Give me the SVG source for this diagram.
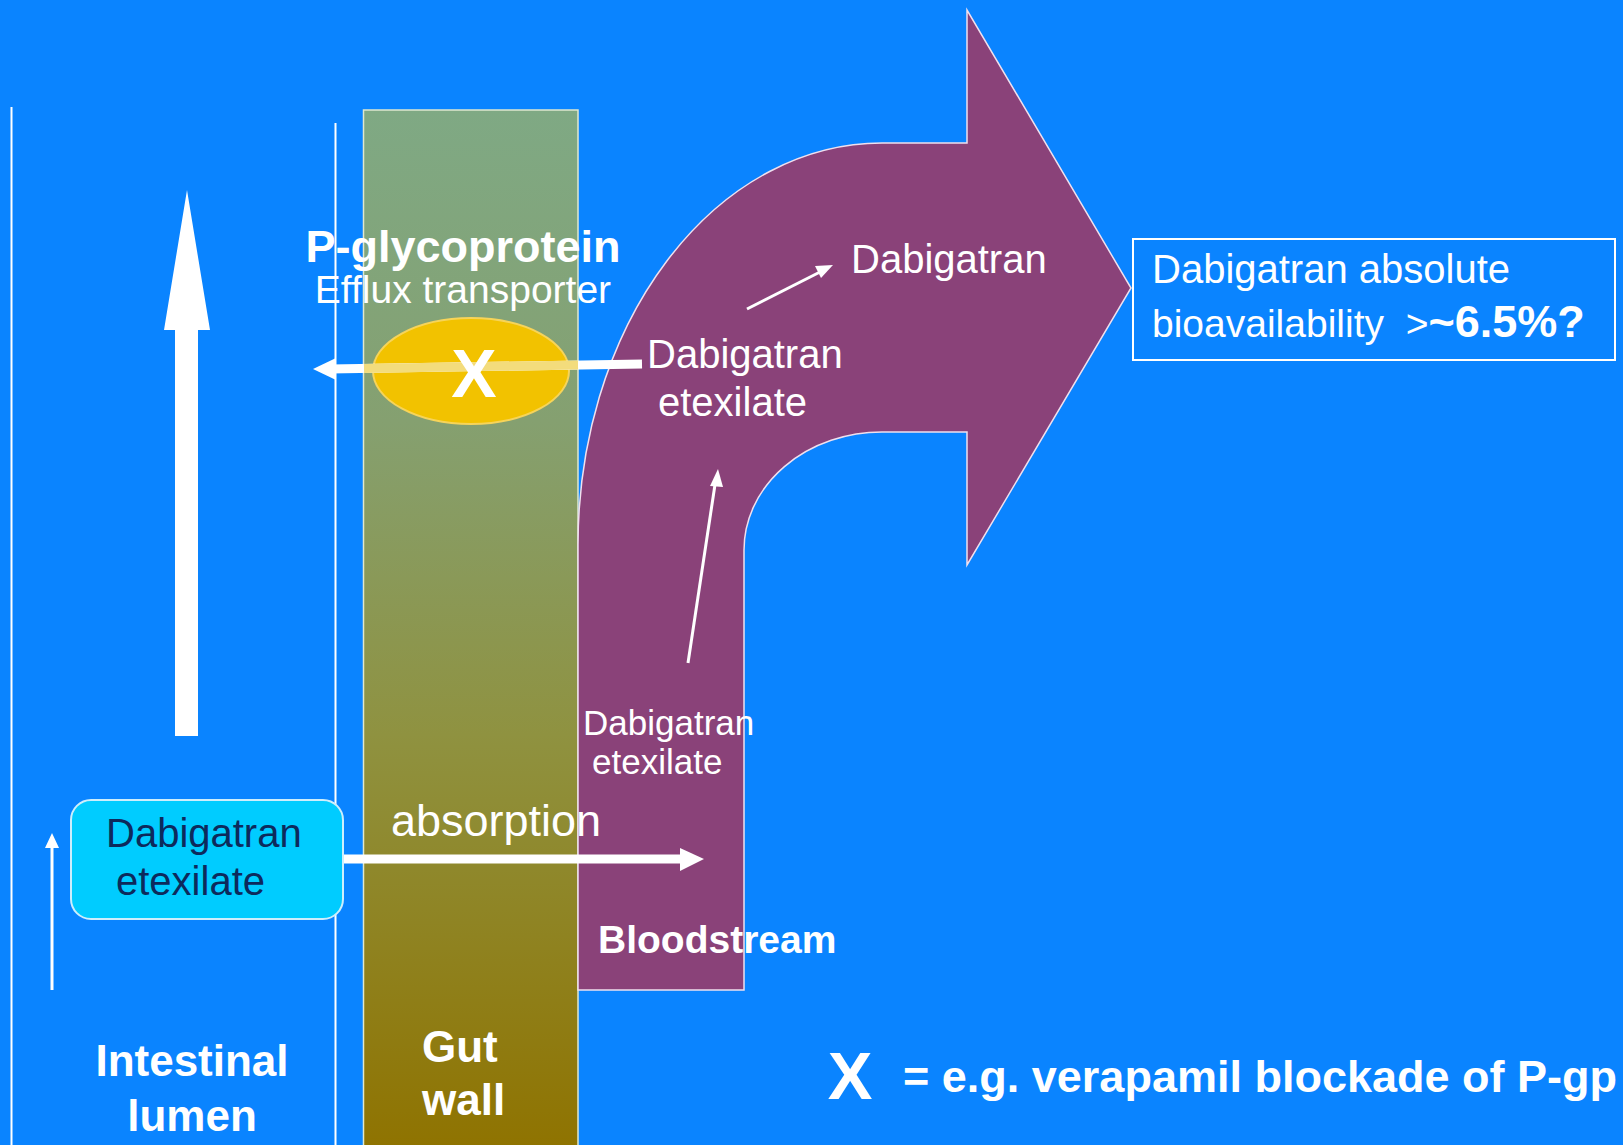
<svg xmlns="http://www.w3.org/2000/svg" width="1623" height="1145" viewBox="0 0 1623 1145">
  <defs>
    <linearGradient id="gutGrad" x1="0" y1="0" x2="0" y2="1">
      <stop offset="0" stop-color="#7fa984"/>
      <stop offset="0.3" stop-color="#85a070"/>
      <stop offset="0.6" stop-color="#8f9240"/>
      <stop offset="1" stop-color="#8f7300"/>
    </linearGradient>
  </defs>
  <style>
    .t { font-family: "Liberation Sans", Arial, sans-serif; fill: #ffffff; }
    .b { font-weight: bold; }
    .thin { stroke: #ffffff; stroke-width: 2; fill: none; }
    .conn { stroke: #ffffff; fill: none; }
  </style>

  <rect x="0" y="0" width="1623" height="1145" fill="#0a84ff"/>

  <g id="lumen-borders">
    <line class="thin" x1="11.5" y1="107" x2="11.5" y2="1145"/>
    <line class="thin" x1="335.5" y1="123" x2="335.5" y2="1145"/>
  </g>

  <g id="gut-wall">
    <rect x="363.5" y="110" width="214.5" height="1040" fill="url(#gutGrad)" stroke="#dfe8d0" stroke-width="1.5"/>
  </g>

  <g id="bloodstream">
    <path d="M 578 990 L 578 545 A 304 402 0 0 1 882 143 L 967 143 L 967 10 L 1131 288 L 967 565 L 967 432 L 882 432 A 138 118 0 0 0 744 550 L 744 990 Z" fill="#8a4279" stroke="#f0e0ee" stroke-width="1.5"/>
  </g>

  <g id="pgp">
    <ellipse cx="471" cy="371" rx="98" ry="53" fill="#f2c200" stroke="#f6d45a" stroke-width="2"/>
  </g>

  <g id="connectors">
    <line x1="642" y1="364" x2="330" y2="369" stroke="#ffffff" stroke-width="9"/>
    <line x1="578" y1="365" x2="364" y2="368.5" stroke="#f3dc7c" stroke-width="9"/>
    <polygon points="313,369 336,358 336,380" fill="#ffffff"/>
    <polygon points="175,736 198,736 198,330 210,330 187,190 164,330 175,330" fill="#ffffff"/>
    <line class="conn" x1="52" y1="990" x2="52" y2="846" stroke-width="3"/>
    <polygon points="52,833 45,848 59,848" fill="#ffffff"/>
    <line x1="327" y1="859" x2="682" y2="859" stroke="#ffffff" stroke-width="9"/>
    <polygon points="704,859 680,848 680,871" fill="#ffffff"/>
    <line class="conn" x1="688" y1="663" x2="716" y2="478" stroke-width="3"/>
    <polygon points="718,469 710,486 723,487" fill="#ffffff"/>
    <line class="conn" x1="747" y1="309" x2="822" y2="271" stroke-width="3"/>
    <polygon points="833,265 815,266 821,278" fill="#ffffff"/>
  </g>

  <g id="label-x-pgp">
    <text class="t b" x="474" y="397" font-size="68" text-anchor="middle">X</text>
  </g>

  <g id="label-pgp">
    <text class="t b" x="463" y="262" font-size="45" text-anchor="middle">P-glycoprotein</text>
    <text class="t" x="463" y="303" font-size="39" text-anchor="middle">Efflux transporter</text>
  </g>

  <g id="label-dabigatran">
    <text class="t" x="851" y="273" font-size="40">Dabigatran</text>
  </g>

  <g id="label-de-mid">
    <text class="t" x="647" y="368" font-size="40">Dabigatran</text>
    <text class="t" x="658" y="416" font-size="40">etexilate</text>
  </g>

  <g id="label-de-low">
    <text class="t" x="583" y="735" font-size="35">Dabigatran</text>
    <text class="t" x="592" y="774" font-size="35">etexilate</text>
  </g>

  <g id="label-absorption">
    <text class="t" x="391" y="836" font-size="45">absorption</text>
  </g>

  <g id="de-box">
    <rect x="71" y="800" width="272" height="119" rx="20" ry="20" fill="#00ccff" stroke="#cdeefc" stroke-width="2"/>
    <text class="t" x="106" y="847" font-size="40" style="fill:#0d2a5c">Dabigatran</text>
    <text class="t" x="116" y="895" font-size="40" style="fill:#0d2a5c">etexilate</text>
  </g>

  <g id="label-bloodstream">
    <text class="t b" x="598" y="953" font-size="39">Bloodstream</text>
  </g>

  <g id="label-lumen">
    <text class="t b" x="192" y="1076" font-size="44" text-anchor="middle">Intestinal</text>
    <text class="t b" x="192" y="1131" font-size="44" text-anchor="middle">lumen</text>
  </g>

  <g id="label-gut">
    <text class="t b" x="422" y="1062" font-size="44">Gut</text>
    <text class="t b" x="422" y="1115" font-size="44">wall</text>
  </g>

  <g id="bioavail-box">
    <rect x="1133" y="239" width="482" height="121" fill="none" stroke="#ffffff" stroke-width="2"/>
    <text class="t" x="1152" y="283" font-size="40">Dabigatran absolute</text>
    <text class="t" x="1152" y="337" font-size="39" xml:space="preserve">bioavailability  &gt;<tspan class="b" font-size="45">~6.5%?</tspan></text>
  </g>

  <g id="legend">
    <text class="t b" x="850" y="1099" font-size="67" text-anchor="middle">X</text>
    <text class="t b" x="903" y="1092" font-size="45">= e.g. verapamil blockade of P-gp</text>
  </g>
</svg>
